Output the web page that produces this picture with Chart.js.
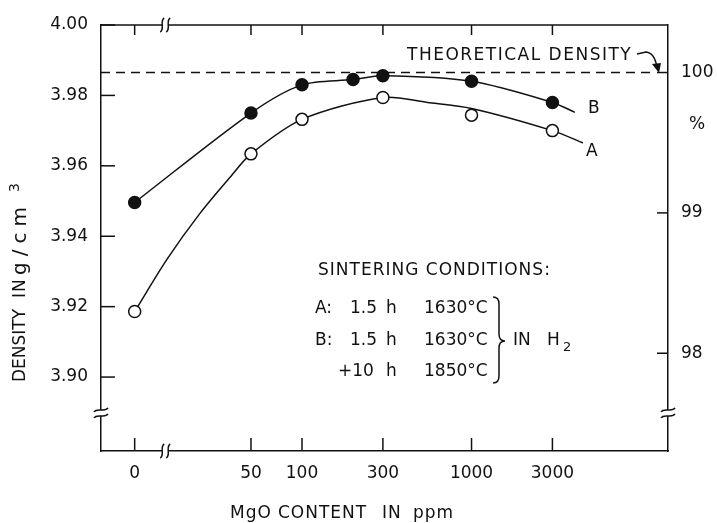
<!DOCTYPE html>
<html>
<head>
<meta charset="utf-8">
<script src="https://cdn.jsdelivr.net/npm/chart.js@4.4.0/dist/chart.umd.min.js"></script>
<style>
  body { margin: 0; background: #fff; }
  #wrap { width: 717px; height: 523px; }
</style>
</head>
<body>
<div id="wrap"><canvas id="densityChart"></canvas></div>
<script>
// MgO additions (ppm) and measured sintered density (g/cm3)
const ppm = [0, 50, 100, 200, 300, 1000, 3000];
const densityA = [3.9186, 3.9634, 3.9732, null, 3.9794, 3.9744, 3.9700];
const densityB = [3.9496, 3.9750, 3.9830, 3.9845, 3.9856, 3.9840, 3.9780];

// the drawn curves (they don't hit every point)
const curvePpmA = [0, 16, 25, 38, 50, 100, 300, 550, 1000, 3000, 4540];
const curveA = [3.9186, 3.9335, 3.9465, 3.9570, 3.9634, 3.9732, 3.9794, 3.9780, 3.9763, 3.9700, 3.9665];
const curvePpmB = [0, 50, 100, 200, 300, 1000, 3000, 4070];
const curveB = [3.9496, 3.9750, 3.9830, 3.9845, 3.9856, 3.9840, 3.9780, 3.9752];

const xTicks = [0, 50, 100, 300, 1000, 3000];
const yTicks = [3.90, 3.92, 3.94, 3.96, 3.98, 4.00];
const pctTicks = [98, 99, 100];

const THEORETICAL = 3.9865;
const ZERO_AT = 10.3;     // where "0" sits on the broken log axis
const X_BREAK = 15.6;
const Y_BREAK = 3.8898;
const X_MIN = 6.52, X_MAX = 14420;
const Y_MIN = 3.879, Y_MAX = 4.0;

const INK = '#111';
const FONT = 'DejaVu Sans';
const toAxis = v => v === 0 ? ZERO_AT : v;
const pts = (xs, ys) => xs.map((p, i) => ({x: toAxis(p), y: ys[i]})).filter(p => p.y !== null);

const frame = {
  id: 'frame',
  afterDraw(chart) {
    const {ctx, chartArea: a, scales: {x, y, y1}} = chart;
    const line = (x1, y1_, x2, y2) => { ctx.beginPath(); ctx.moveTo(x1, y1_); ctx.lineTo(x2, y2); ctx.stroke(); };
    ctx.save();
    ctx.strokeStyle = INK;
    ctx.fillStyle = INK;
    ctx.lineWidth = 1.5;

    // top border + inward ticks
    line(a.left, a.top, a.right, a.top);
    xTicks.forEach(t => {
      const px = x.getPixelForValue(toAxis(t));
      line(px, a.bottom, px, a.bottom - 13);
      line(px, a.top, px, a.top + 10);
    });
    yTicks.forEach(t => {
      const py = y.getPixelForValue(t);
      line(a.left, py, a.left + 14, py);
    });
    pctTicks.forEach(t => {
      const py = y1.getPixelForValue(t);
      line(a.right, py, a.right - 11, py);
    });

    // axis breaks
    const bx = x.getPixelForValue(X_BREAK);
    [a.top, a.bottom].forEach(ay => {
      ctx.fillStyle = '#fff';
      ctx.fillRect(bx - 3, ay - 2, 6, 4);
      [-3, 3].forEach(d => {
        ctx.beginPath();
        ctx.moveTo(bx + d - 2, ay + 7);
        ctx.bezierCurveTo(bx + d + 3, ay + 4, bx + d - 3, ay - 4, bx + d + 2, ay - 7);
        ctx.stroke();
      });
    });
    const by = y.getPixelForValue(Y_BREAK);
    [a.left, a.right].forEach(ax => {
      ctx.fillStyle = '#fff';
      ctx.fillRect(ax - 2, by - 3, 4, 6);
      [-3, 3].forEach(d => {
        ctx.beginPath();
        ctx.moveTo(ax - 7, by + d + 2);
        ctx.bezierCurveTo(ax - 4, by + d - 3, ax + 4, by + d + 3, ax + 7, by + d - 2);
        ctx.stroke();
      });
    });

    // texts
    ctx.fillStyle = INK;
    ctx.textBaseline = 'middle';
    ctx.textAlign = 'left';
    const text = (s, tx, ty, size = 17, sp = 0) => {
      ctx.font = size + 'px "' + FONT + '"';
      ctx.letterSpacing = sp + 'px';
      ctx.fillText(s, tx, ty);
    };

    text('THEORETICAL DENSITY', 407, 56, 17, 1.5);
    ctx.beginPath();
    ctx.moveTo(637, 54);
    ctx.lineTo(646, 52);
    ctx.quadraticCurveTo(655, 53, 657, 68);
    ctx.stroke();
    ctx.beginPath();
    ctx.moveTo(659, 73); ctx.lineTo(652, 64); ctx.lineTo(661, 63); ctx.closePath();
    ctx.fill();

    text('B', 588, 109);
    text('A', 586, 152);
    text('%', 689, 125);

    text('SINTERING CONDITIONS:', 318, 271, 17, 1);
    text('A:', 315, 309);
    text('1.5', 350, 309);
    text('h', 386, 309);
    text('1630°C', 424, 309);
    text('B:', 315, 341);
    text('1.5', 350, 341);
    text('h', 386, 341);
    text('1630°C', 424, 341);
    text('+10', 338, 372);
    text('h', 386, 372);
    text('1850°C', 424, 372);

    // brace
    ctx.beginPath();
    ctx.moveTo(493, 297);
    ctx.quadraticCurveTo(499, 297, 499, 304);
    ctx.lineTo(499, 334);
    ctx.quadraticCurveTo(499, 341, 505, 341);
    ctx.quadraticCurveTo(499, 341, 499, 348);
    ctx.lineTo(499, 376);
    ctx.quadraticCurveTo(499, 383, 493, 383);
    ctx.stroke();
    text('IN', 513, 341);
    text('H', 547, 341);
    text('2', 563, 348, 13);

    // axis titles
    text('MgO', 230, 514, 17, 1);
    text('CONTENT', 278, 514, 17, 1);
    text('IN', 382, 514, 17, 1);
    text('ppm', 413, 514, 17, 1);

    ctx.save();
    ctx.translate(21, 382);
    ctx.rotate(-Math.PI / 2);
    text('DENSITY', 0, 0, 17, 0);
    text('IN', 84, 0, 17, 1);
    text('g/cm', 107, 0, 20, 6);
    text('3', 190, -6, 14);
    ctx.restore();

    ctx.restore();
  }
};

const tickFont = {family: FONT, size: 17};

new Chart(document.getElementById('densityChart'), {
  type: 'line',
  data: {
    datasets: [
      {
        label: 'B', data: pts(ppm, densityB), showLine: false,
        pointRadius: 6, pointBackgroundColor: INK, pointBorderColor: INK, pointBorderWidth: 1.5, order: 0
      },
      {
        label: 'A', data: pts(ppm, densityA), showLine: false,
        pointRadius: 6, pointBackgroundColor: '#fff', pointBorderColor: INK, pointBorderWidth: 1.5, order: 1
      },
      {
        label: 'curve B', data: pts(curvePpmB, curveB), borderColor: INK, borderWidth: 1.5,
        pointRadius: 0, tension: 0.3, order: 2
      },
      {
        label: 'curve A', data: pts(curvePpmA, curveA), borderColor: INK, borderWidth: 1.5,
        pointRadius: 0, tension: 0.3, order: 3
      },
      {
        label: 'theoretical', data: [{x: X_MIN, y: THEORETICAL}, {x: 11500, y: THEORETICAL}],
        borderColor: INK, borderWidth: 1.5, borderDash: [9, 6], pointRadius: 0, order: 4
      }
    ]
  },
  options: {
    responsive: true,
    maintainAspectRatio: false,
    animation: false,
    layout: {padding: {top: 25}},
    plugins: {legend: {display: false}, tooltip: {enabled: false}},
    scales: {
      x: {
        type: 'logarithmic', min: X_MIN, max: X_MAX,
        grid: {display: false, drawTicks: false},
        border: {display: true, color: INK, width: 1.5},
        afterBuildTicks: s => { s.ticks = xTicks.map(v => ({value: toAxis(v)})); },
        ticks: {color: INK, font: tickFont, padding: 12, autoSkip: false, maxRotation: 0,
                callback: (v, i) => String(xTicks[i])},
        afterFit: s => { s.height = 72; }
      },
      y: {
        min: Y_MIN, max: Y_MAX,
        grid: {display: false, drawTicks: false},
        border: {display: true, color: INK, width: 1.5},
        afterBuildTicks: s => { s.ticks = yTicks.map(v => ({value: v})); },
        ticks: {color: INK, font: tickFont, padding: 13, callback: v => v.toFixed(2)},
        afterFit: s => { s.width = 101; }
      },
      y1: {
        position: 'right',
        min: Y_MIN / THEORETICAL * 100, max: Y_MAX / THEORETICAL * 100,
        grid: {display: false, drawTicks: false},
        border: {display: true, color: INK, width: 1.5},
        afterBuildTicks: s => { s.ticks = pctTicks.map(v => ({value: v})); },
        ticks: {color: INK, font: tickFont, padding: 13, callback: v => String(v)},
        afterFit: s => { s.width = 49; }
      }
    }
  },
  plugins: [frame]
});
</script>
</body>
</html>
